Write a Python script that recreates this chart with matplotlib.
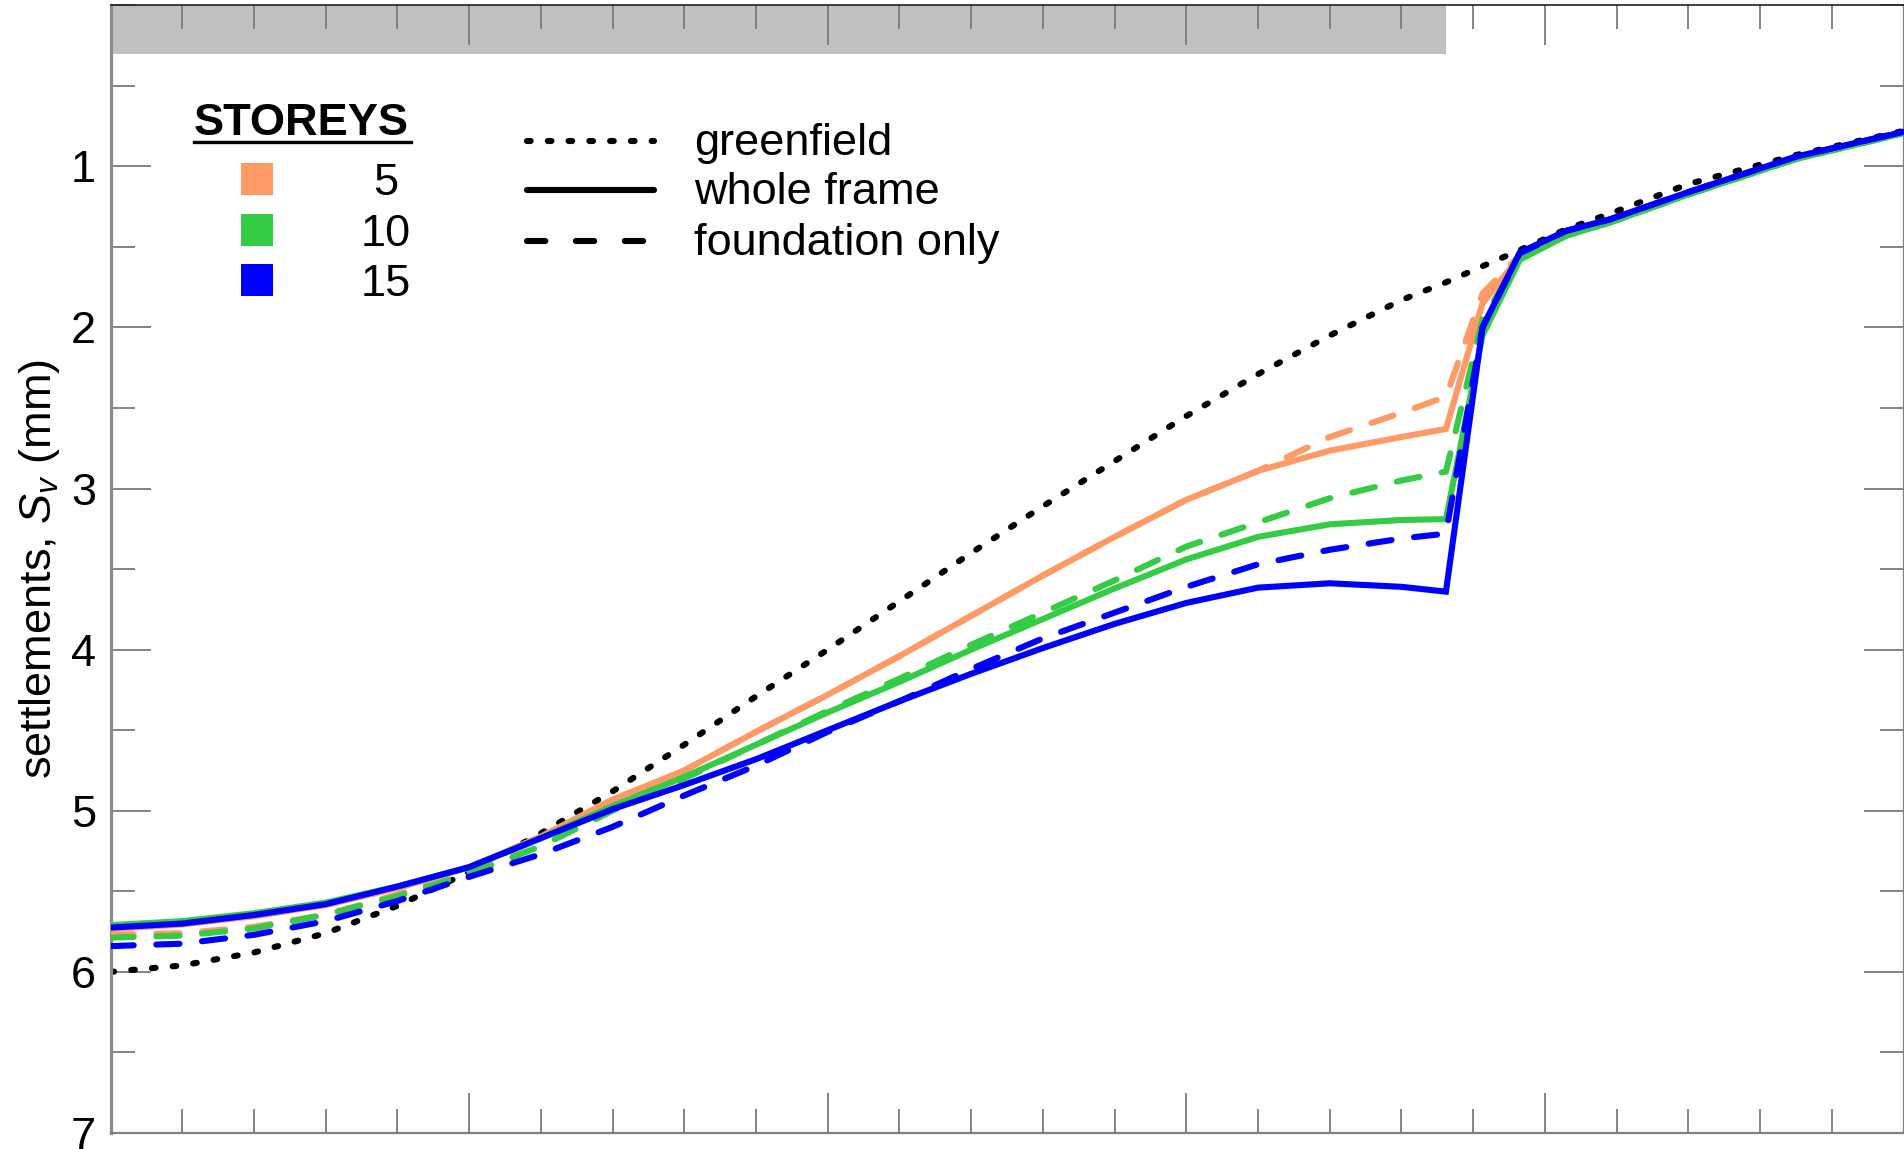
import matplotlib
matplotlib.use("Agg")
import matplotlib.pyplot as plt
from matplotlib.patches import Rectangle
from matplotlib.lines import Line2D
from matplotlib.ticker import MultipleLocator

plt.rcParams['font.family'] = ['Liberation Sans', 'DejaVu Sans']
plt.rcParams['mathtext.fontset'] = 'custom'
plt.rcParams['mathtext.rm'] = 'Liberation Sans'
plt.rcParams['mathtext.it'] = 'Liberation Sans:italic'
plt.rcParams['mathtext.bf'] = 'Liberation Sans:bold'

# ---------------- data ----------------
x_nodes = [0, 1, 2, 3, 4, 5, 6, 7, 8, 9, 10, 11, 12, 13, 14, 15, 16, 17, 18,
           18.62, 19.13, 19.65, 20.3, 20.9, 22, 23.5, 25]

greenfield = [6.00, 5.96, 5.88, 5.76, 5.59, 5.38, 5.14, 4.88, 4.59, 4.29, 4.00,
              3.70, 3.40, 3.11, 2.83, 2.55, 2.29, 2.05, 1.83, 1.72, 1.62, 1.52,
              1.39, 1.295, 1.11, 0.93, 0.78]

s5_whole = [5.735, 5.705, 5.655, 5.585, 5.48, 5.35, 5.16, 4.93, 4.75, 4.51, 4.28,
            4.04, 3.79, 3.54, 3.30, 3.07, 2.89, 2.765, 2.68, 2.63, 1.85, 1.56,
            1.42, 1.345, 1.17, 0.95, 0.79]
s5_found = [5.77, 5.76, 5.72, 5.645, 5.52, 5.37, 5.17, 4.94, 4.75, 4.51, 4.28,
            4.04, 3.79, 3.54, 3.30, 3.07, 2.89, 2.68, 2.53, 2.43, 1.79, 1.55,
            1.42, 1.345, 1.17, 0.95, 0.79]

s10_whole = [5.71, 5.685, 5.636, 5.57, 5.47, 5.35, 5.17, 4.97, 4.79, 4.59, 4.39,
             4.20, 4.00, 3.81, 3.62, 3.44, 3.30, 3.222, 3.195, 3.19, 2.05, 1.58,
             1.43, 1.35, 1.175, 0.955, 0.795]
s10_found = [5.787, 5.775, 5.73, 5.645, 5.53, 5.39, 5.22, 5.00, 4.80, 4.59, 4.38,
             4.18, 3.97, 3.77, 3.57, 3.36, 3.21, 3.06, 2.95, 2.895, 1.95, 1.57,
             1.43, 1.35, 1.175, 0.955, 0.795]

s15_whole = [5.725, 5.70, 5.647, 5.58, 5.47, 5.35, 5.17, 4.99, 4.84, 4.68, 4.50,
             4.32, 4.15, 3.99, 3.84, 3.71, 3.615, 3.588, 3.61, 3.64, 2.00, 1.535,
             1.40, 1.33, 1.16, 0.94, 0.786]
s15_found = [5.84, 5.825, 5.77, 5.685, 5.56, 5.41, 5.27, 5.10, 4.905, 4.72, 4.51,
             4.32, 4.12, 3.93, 3.77, 3.61, 3.47, 3.38, 3.31, 3.28, 2.00, 1.54,
             1.40, 1.33, 1.16, 0.94, 0.786]

storeys = ["5", "10", "15"]
colors = ["#FF9966", "#33CC44", "#0000FF"]
style_labels = ["greenfield", "whole frame", "foundation only"]

building_edge = 18.62
building_band = 0.3
x_range = (0, 25)
y_range = (7, 0)
y_major = [1, 2, 3, 4, 5, 6, 7]

# ---------------- figure ----------------
W, H = 1904, 1149
fig = plt.figure(figsize=(W / 100, H / 100), dpi=100)
ax = fig.add_axes([110.5 / W, 16 / H, (1903.5 - 110.5) / W, (1133 - 5.2) / H])
ax.set_xlim(*x_range)
ax.set_ylim(*y_range)

ax.add_patch(Rectangle((0, 0), building_edge, building_band,
                       facecolor='#c0c0c0', edgecolor='none', zorder=0.5))

LW = 4.4
dash = (0, (3.8, 3.7))
dot = (0, (0.6, 2.8))

ax.plot(x_nodes, greenfield, color='black', lw=LW, linestyle=dot,
        dash_capstyle='round', zorder=2)

series = [(s5_whole, s5_found), (s10_whole, s10_found), (s15_whole, s15_found)]
z = 3
for (whole, found), c in zip(series, colors):
    ax.plot(x_nodes, whole, color=c, lw=LW, solid_joinstyle='miter', zorder=z)
    ax.plot(x_nodes, found, color=c, lw=LW, linestyle=dash,
            dash_capstyle='round', dash_joinstyle='miter', zorder=z + 0.5)
    z += 1

# ---------------- axes styling ----------------
ax.xaxis.set_major_locator(MultipleLocator(5))
ax.xaxis.set_minor_locator(MultipleLocator(1))
ax.set_yticks(y_major)
ax.yaxis.set_minor_locator(MultipleLocator(0.5))
ax.tick_params(which='both', direction='in', top=True, right=True,
               bottom=True, left=True, labelbottom=False, color='#7a7a7a',
               width=1.3)
ax.tick_params(which='major', length=28.5)
ax.tick_params(which='minor', length=17)
ax.tick_params(axis='y', labelsize=32.5, pad=10.5)

ax.spines['left'].set_color('#8c8c8c')
ax.spines['left'].set_linewidth(2.3)
ax.spines['bottom'].set_color('#808080')
ax.spines['bottom'].set_linewidth(1.6)
ax.spines['top'].set_color('#202020')
ax.spines['top'].set_linewidth(1.2)
ax.spines['right'].set_color('#808080')
ax.spines['right'].set_linewidth(1.6)

ax.set_ylabel('settlements, $S_v$ (mm)', fontsize=32.5)
ax.yaxis.set_label_coords(-0.027, 0.5)

# ---------------- legends (drawn in axes fraction) ----------------
def fx(px):
    return (px - 110.5) / (1903.5 - 110.5)

def fy(py):
    return 1 - (py - 5.2) / (1133 - 5.2)

T = ax.transAxes
ax.text(fx(301.7), fy(135), 'STOREYS', transform=T, ha='center',
        va='baseline', fontsize=32.5, fontweight='bold')
ax.add_line(Line2D([fx(194), fx(411)], [fy(141.5), fy(141.5)], transform=T,
                   color='black', lw=2.4, clip_on=False))

sq_top = [163.3, 214.0, 264.3]
for lab, c, top in zip(storeys, colors, sq_top):
    ax.add_patch(Rectangle((fx(241), fy(top + 31.7)), fx(273) - fx(241),
                           fy(top) - fy(top + 31.7), transform=T,
                           facecolor=c, edgecolor='none', clip_on=False))
    ax.text(fx(386), fy(top + 31.7), lab, transform=T, ha='center',
            va='baseline', fontsize=32.5)

line_y = [140.5, 189.5, 240.5]
text_base = [155.0, 204.5, 255.0]
styles = [dict(linestyle=dot, dash_capstyle='round', lw=LW),
          dict(linestyle='-', solid_capstyle='round', lw=LW),
          dict(linestyle=(0, (3.0, 5.0)), dash_capstyle='round', lw=LW)]
for lab, ly, tb, st in zip(style_labels, line_y, text_base, styles):
    ax.add_line(Line2D([fx(527), fx(654)], [fy(ly), fy(ly)], transform=T,
                       color='black', clip_on=False, **st))
    ax.text(fx(694), fy(tb), lab, transform=T, ha='left', va='baseline',
            fontsize=32.5)

fig.savefig('out.png', dpi=100)
